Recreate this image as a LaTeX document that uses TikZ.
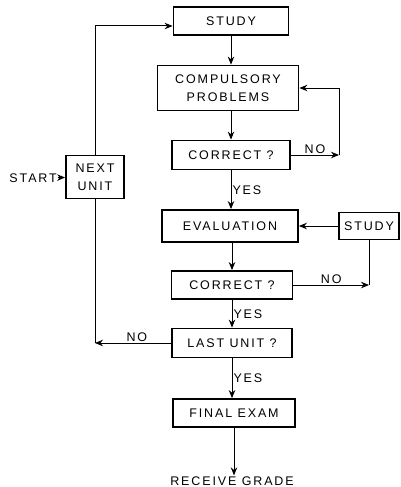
\documentclass[tikz,border=0pt]{standalone}
\usepackage{fontspec}
\setmainfont{Liberation Sans}[LetterSpace=15]
\usetikzlibrary{arrows.meta}
\tikzset{
  box/.style={draw,line width=1.8pt,inner sep=0pt,align=center},
  flow/.style={line width=1pt,-{Stealth[length=8pt,width=6.5pt]}},
  link/.style={line width=1pt},
  lab/.style={inner sep=1pt},
  every node/.style={font=\fontsize{12.5}{18}\selectfont}
}
\begin{document}
\begin{tikzpicture}[x=1pt,y=-1pt]
  \useasboundingbox (0,0) rectangle (400,487);
  % main column
  \node[box,minimum width=115pt,minimum height=28pt] (study) at (231,21) {STUDY};
  \node[box,minimum width=141pt,minimum height=45pt] (comp) at (228,88) {COMPULSORY\\PROBLEMS};
  \node[box,minimum width=118pt,minimum height=29pt] (corr1) at (231,155) {CORRECT ?};
  \node[box,minimum width=136pt,minimum height=32pt] (eval) at (230,226) {EVALUATION};
  \node[box,minimum width=121pt,minimum height=28pt] (corr2) at (232,285) {CORRECT ?};
  \node[box,minimum width=120pt,minimum height=29pt] (last) at (232,343) {LAST UNIT ?};
  \node[box,minimum width=122pt,minimum height=28pt] (final) at (234,413) {FINAL EXAM};
  \node[lab] (grade) at (232,481) {RECEIVE GRADE};
  % side boxes
  \node[box,minimum width=60pt,minimum height=27pt] (study2) at (369,226) {STUDY};
  \node[box,minimum width=58pt,minimum height=43pt] (next) at (95,177) {NEXT\\UNIT};
  \node[lab,anchor=east] (start) at (58,178) {START};
  \coordinate (c1) at (339,155);
  \coordinate (c2) at (369,285);
  \coordinate (c3) at (95,343);
  % connectors
  \draw[flow] (study) -- (study.south |- comp.north);
  \draw[flow] (corr1.north |- comp.south) -- (corr1);
  \draw[flow] (corr1) -- (corr1.south |- eval.north) node[lab,midway,right] {YES};
  \draw[flow] (corr1) -- (c1) node[lab,midway,above] {NO};
  \draw[flow] (c1) |- (comp);
  \draw[flow] (study2) -- (eval);
  \draw[flow] (corr2.north |- eval.south) -- (corr2);
  \draw[flow] (corr2) -- (c2) node[lab,midway,above] {NO};
  \draw[link] (c2) -- (study2);
  \draw[flow] (corr2) -- (last) node[lab,midway,right] {YES};
  \draw[flow] (last) -- (c3) node[lab,pos=0.45,above] {NO};
  \draw[link] (c3) -- (next);
  \draw[flow] (next) |- ([yshift=-5pt]study.west);
  \draw[flow] (start) -- (next);
  \draw[flow] (last) -- (last.south |- final.north) node[lab,midway,right] {YES};
  \draw[flow] (final) -- (final.south |- grade.north);
\end{tikzpicture}
\end{document}
